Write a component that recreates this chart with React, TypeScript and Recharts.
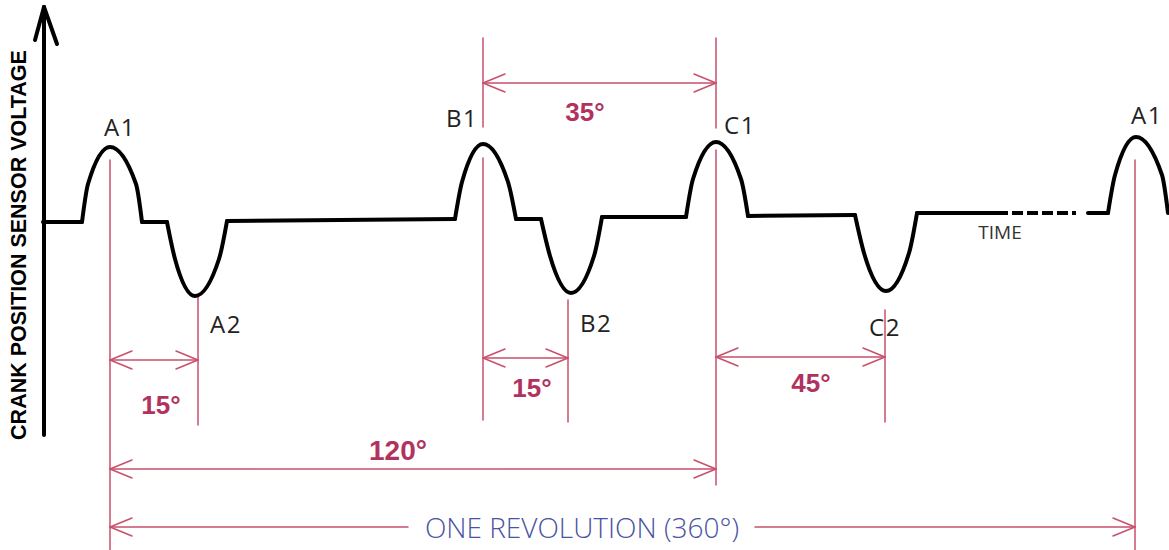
import React from 'react';
import { LineChart, Line, XAxis, YAxis, ReferenceLine, ReferenceDot } from 'recharts';

type P = { t: number; v: number };

// ---- waveform (t = position along the trace, v = sensor voltage relative to rest level)
const flatSegments: P[][] = [
  [{ t: 43, v: 0 }, { t: 82, v: 0 }],
  [{ t: 142, v: 0 }, { t: 167, v: 0 }],
  [{ t: 227, v: 1 }, { t: 455, v: 3 }],
  [{ t: 516, v: 3 }, { t: 541, v: 3 }],
  [{ t: 602, v: 5 }, { t: 686, v: 5 }],
  [{ t: 748, v: 6 }, { t: 855, v: 7 }],
  [{ t: 917, v: 9 }, { t: 997, v: 9 }],
  [{ t: 1088, v: 9 }, { t: 1108, v: 9 }],
];
const dashedSegment: P[] = [{ t: 997, v: 9 }, { t: 1076, v: 9 }];
const pulses: P[][] = [
  [{ t: 82, v: 0 }, { t: 88, v: 38 }, { t: 110, v: 75 }, { t: 136, v: 38 }, { t: 142, v: 0 }],
  [{ t: 167, v: 0 }, { t: 175, v: -37 }, { t: 195, v: -74 }, { t: 219, v: -37 }, { t: 227, v: 1 }],
  [{ t: 455, v: 3 }, { t: 462, v: 40 }, { t: 483, v: 78 }, { t: 508, v: 40 }, { t: 516, v: 3 }],
  [{ t: 541, v: 3 }, { t: 550, v: -34 }, { t: 571, v: -71 }, { t: 594, v: -34 }, { t: 602, v: 5 }],
  [{ t: 686, v: 5 }, { t: 693, v: 43 }, { t: 716, v: 80 }, { t: 741, v: 43 }, { t: 748, v: 6 }],
  [{ t: 855, v: 7 }, { t: 864, v: -31 }, { t: 886, v: -69 }, { t: 909, v: -31 }, { t: 917, v: 9 }],
  [{ t: 1108, v: 9 }, { t: 1115, v: 47 }, { t: 1136, v: 85 }, { t: 1162, v: 47 }, { t: 1168, v: 9 }],
];

// ---- tooth labels
const toothLabels = [
  { text: 'A1', t: 120, v: 96 },
  { text: 'A2', t: 226, v: -101 },
  { text: 'B1', t: 462, v: 105 },
  { text: 'B2', t: 596, v: -100 },
  { text: 'C1', t: 740, v: 98 },
  { text: 'C2', t: 885, v: -104 },
  { text: 'A1', t: 1147, v: 108 },
];

// ---- red guide lines
const guides = [
  { t: 110, top: 62, bottom: -328 },
  { t: 198, top: -75, bottom: -203 },
  { t: 483, top: 184, bottom: 95 },
  { t: 483, top: 64, bottom: -198 },
  { t: 568, top: -78, bottom: -200 },
  { t: 716, top: 184, bottom: 94 },
  { t: 716, top: 72, bottom: -263 },
  { t: 885, top: -88, bottom: -200 },
  { t: 1135, top: 62, bottom: -328 },
];

// ---- angle dimensions
const dims = [
  { label: '35°', from: 483, to: 716, at: 139, labelT: 585, labelV: 110 },
  { label: '15°', from: 110, to: 198, at: -138, labelT: 161, labelV: -183 },
  { label: '15°', from: 483, to: 568, at: -136, labelT: 532, labelV: -166 },
  { label: '45°', from: 716, to: 885, at: -135, labelT: 811, labelV: -161 },
  { label: '120°', from: 110, to: 716, at: -247, labelT: 398, labelV: -228 },
];
const revolution = { label: 'ONE REVOLUTION (360°)', from: 110, to: 1135, at: -305, gapFrom: 408, gapTo: 755, labelT: 582 };

const axisArrow = { t: 44, top: 215, bottom: -213 };
const axisTitle = { text: 'CRANK POSITION SENSOR VOLTAGE', t: 19, v: -23 };
const timeLabel = { text: 'TIME', t: 1000, v: -10 };

// ---- styles
const RED = '#c9506b';
const RED_TEXT = '#b2325f';
const ARM_DX = 22;
const ARM_DY = 9;

const textLabel = (text: string, style: any, rotate = 0) => (props: any) => {
  const vb = props.viewBox || {};
  const cx = (vb.x ?? 0) + (vb.width ?? 0) / 2;
  const cy = (vb.y ?? 0) + (vb.height ?? 0) / 2;
  return (
    <text
      x={cx}
      y={cy}
      textAnchor="middle"
      dominantBaseline="central"
      transform={rotate ? `rotate(${rotate} ${cx} ${cy})` : undefined}
      {...style}
    >
      {text}
    </text>
  );
};

const seg = (key: string, a: [number, number], b: [number, number], stroke = RED, width = 1.5) => (
  <ReferenceLine
    key={key}
    segment={[{ x: a[0], y: a[1] }, { x: b[0], y: b[1] }]}
    stroke={stroke}
    strokeWidth={width}
    strokeLinecap="round"
    ifOverflow="visible"
  />
);

const arrowHead = (key: string, x: number, y: number, dir: 1 | -1) => [
  seg(key + 'u', [x, y], [x + dir * ARM_DX, y + ARM_DY]),
  seg(key + 'd', [x, y], [x + dir * ARM_DX, y - ARM_DY]),
];

const dot = (key: string, t: number, v: number, label: any) => (
  <ReferenceDot key={key} x={t} y={v} r={1} fill="none" stroke="none" ifOverflow="visible" label={label} />
);

export default function App() {
  const children: any[] = [];

  guides.forEach((g, i) => children.push(seg('g' + i, [g.t, g.top], [g.t, g.bottom])));

  dims.forEach((d, i) => {
    children.push(seg('d' + i, [d.from, d.at], [d.to, d.at]));
    children.push(...arrowHead('dl' + i, d.from, d.at, 1));
    children.push(...arrowHead('dr' + i, d.to, d.at, -1));
    children.push(
      dot('dt' + i, d.labelT, d.labelV,
        textLabel(d.label, { fill: RED_TEXT, fontSize: d.label.length > 3 ? 28 : 26, fontWeight: 700, fontFamily: 'Liberation Sans, Arial, sans-serif' }))
    );
  });

  children.push(seg('r1', [revolution.from, revolution.at], [revolution.gapFrom, revolution.at]));
  children.push(seg('r2', [revolution.gapTo, revolution.at], [revolution.to, revolution.at]));
  children.push(...arrowHead('rl', revolution.from, revolution.at, 1));
  children.push(...arrowHead('rr', revolution.to, revolution.at, -1));
  children.push(
    dot('rt', revolution.labelT, revolution.at,
      textLabel(revolution.label, { fill: '#4a52a3', fontSize: 28, fontWeight: 300, fontFamily: 'Open Sans, sans-serif' }))
  );

  // vertical axis arrow
  children.push(seg('ax', [axisArrow.t, axisArrow.top], [axisArrow.t, axisArrow.bottom], '#000', 4));
  children.push(seg('axl', [axisArrow.t, axisArrow.top], [axisArrow.t - 9, axisArrow.top - 33], '#000', 4));
  children.push(seg('axr', [axisArrow.t, axisArrow.top], [axisArrow.t + 13, axisArrow.top - 37], '#000', 4));

  toothLabels.forEach((l, i) =>
    children.push(
      dot('tl' + i, l.t, l.v,
        textLabel(l.text, { fill: '#222', fontSize: 24, fontFamily: 'Open Sans, sans-serif', letterSpacing: 1.5 }))
    )
  );

  children.push(
    dot('title', axisTitle.t, axisTitle.v,
      textLabel(axisTitle.text, { fill: '#000', fontSize: 21.5, fontWeight: 700, fontFamily: 'Liberation Sans, Arial, sans-serif' }, -90))
  );
  children.push(
    dot('time', timeLabel.t, timeLabel.v,
      textLabel(timeLabel.text, { fill: '#333', fontSize: 19, fontFamily: 'Open Sans, sans-serif' }))
  );

  return (
    <div style={{ position: 'absolute', left: 0, top: 0, width: 1169, height: 550, background: '#fff' }}>
      <LineChart width={1169} height={550} margin={{ top: 0, right: 0, bottom: 0, left: 0 }}>
        <XAxis type="number" dataKey="t" domain={[0, 1169]} hide allowDataOverflow />
        <YAxis type="number" dataKey="v" domain={[-328, 222]} hide allowDataOverflow />
        {children}
        {flatSegments.map((s, i) => (
          <Line key={'f' + i} data={s} dataKey="v" type="linear" stroke="#000" strokeWidth={4}
            strokeLinecap="round" dot={false} activeDot={false} isAnimationActive={false} />
        ))}
        <Line data={dashedSegment} dataKey="v" type="linear" stroke="#000" strokeWidth={4}
          strokeDasharray="11 4" dot={false} activeDot={false} isAnimationActive={false} />
        {pulses.map((s, i) => (
          <Line key={'p' + i} data={s} dataKey="v" type="monotone" stroke="#000" strokeWidth={4}
            strokeLinecap="round" dot={false} activeDot={false} isAnimationActive={false} />
        ))}
      </LineChart>
    </div>
  );
}
